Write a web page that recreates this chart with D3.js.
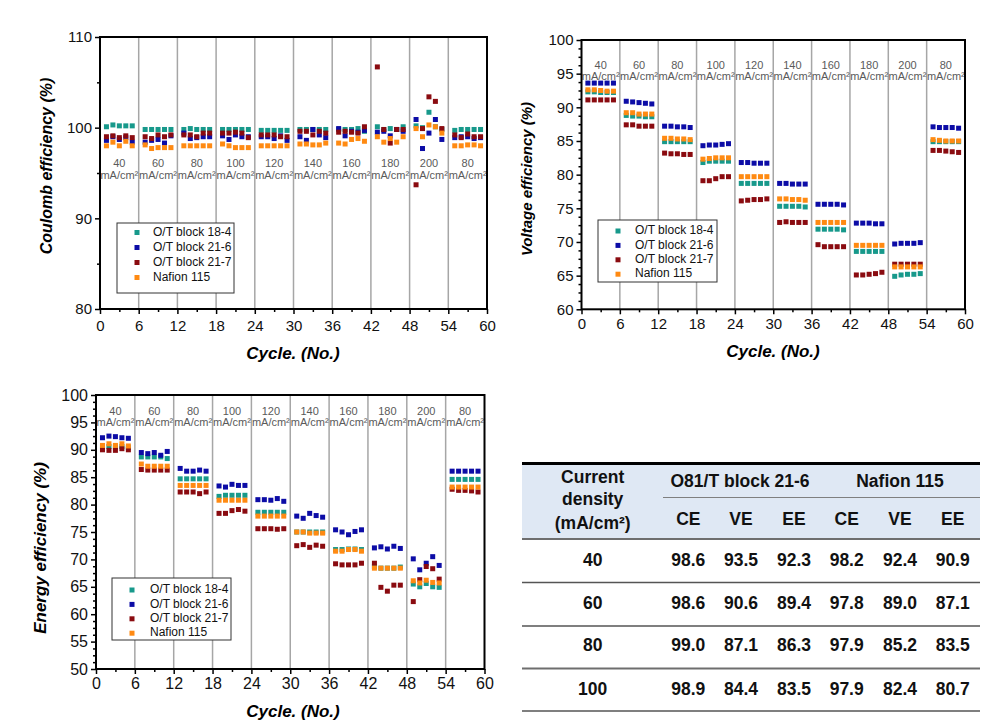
<!DOCTYPE html>
<html><head><meta charset="utf-8">
<script src="https://cdn.jsdelivr.net/npm/d3@7/dist/d3.min.js"></script>
<style>
html,body{margin:0;padding:0;background:#fff;}
svg{display:block;font-family:"Liberation Sans",Arial,Helvetica,sans-serif;}
</style></head>
<body><svg id="c" width="998" height="728"></svg>
<script>
// ---------------- DATA ----------------
const cycles = [1,2,3,4,5, 7,8,9,10,11, 13,14,15,16,17, 19,20,21,22,23, 25,26,27,28,29,
                31,32,33,34,35, 37,38,39,40,41, 43,44,45,46,47, 49,50,51,52,53, 55,56,57,58,59];
const densityLabels = ["40","60","80","100","120","140","160","180","200","80"];
const seriesNames = ["O/T block 18-4","O/T block 21-6","O/T block 21-7","Nafion 115"];
const seriesColors = ["#17998b","#0c0ca6","#8a0b10","#ff8a12"];

// Coulomb efficiency (%)
const ce_18_4 = [100.1,100.3,100.2,100.2,100.2, 99.8,99.8,99.8,99.8,99.8, 99.8,99.9,99.8,99.8,99.8, 99.8,99.8,99.8,99.8,99.8, 99.7,99.7,99.7,99.7,99.7,
                 99.8,99.8,99.8,99.8,99.8, 99.8,99.8,99.8,99.9,99.6, 100.1,99.8,99.9,99.8,100.1, 100.2,100.0,101.7,100.1,99.8, 99.7,99.8,99.8,99.8,99.8];
const ce_21_6 = [98.6,99.0,98.7,98.9,98.4, 98.4,98.6,98.7,98.3,99.1, 99.4,98.8,98.9,99.0,99.0, 99.1,98.7,99.2,99.0,99.0, 99.0,99.0,98.8,99.1,98.6,
                 99.0,98.6,99.8,99.2,98.9, 99.9,99.1,99.6,99.5,99.7, 99.5,99.6,99.1,99.8,99.6, 100.9,97.7,99.4,100.9,98.7, 98.9,99.0,99.0,98.8,98.9];
const ce_21_7 = [99.0,99.1,98.9,99.1,98.9, 99.0,98.8,99.2,99.0,99.2, 99.2,99.2,99.0,99.4,99.4, 99.4,99.4,99.5,99.4,98.9, 99.2,99.2,99.2,99.0,99.0,
                 99.6,99.6,99.2,99.6,99.4, 99.5,99.6,99.5,99.4,100.1, 106.7,99.8,98.3,99.8,99.8, 93.7,99.9,103.4,102.9,99.9, 99.2,98.9,99.3,99.0,99.0];
const ce_nafion = [98.0,98.4,98.0,98.5,98.0, 98.1,97.7,97.8,97.8,97.8, 98.0,98.0,98.0,98.0,98.0, 98.2,98.0,97.8,97.8,97.8, 98.0,98.0,98.0,98.0,98.0,
                   98.2,98.2,98.1,98.1,98.3, 98.3,98.2,98.7,98.8,98.5, 99.0,98.4,98.8,98.4,99.0, 99.9,99.0,100.3,100.1,99.4, 98.0,98.0,98.1,98.1,98.0];

// Voltage efficiency (%)
const ve_18_4 = [92.3,92.3,92.2,92.2,92.2, 88.8,88.7,88.7,88.6,88.6, 84.9,84.9,84.9,84.9,84.9, 81.8,82.0,82.0,82.0,82.0, 78.7,78.7,78.7,78.7,78.7,
                 75.3,75.3,75.3,75.3,75.2, 71.9,71.9,71.9,71.9,71.8, 68.6,68.6,68.6,68.6,68.6, 64.9,65.1,65.2,65.2,65.3, 84.9,84.9,84.9,84.9,84.9];
const ve_21_6 = [93.6,93.6,93.6,93.6,93.6, 90.9,90.8,90.7,90.6,90.5, 87.2,87.2,87.1,87.1,87.0, 84.3,84.4,84.4,84.5,84.6, 81.8,81.8,81.7,81.7,81.7,
                 78.7,78.7,78.6,78.6,78.6, 75.6,75.6,75.6,75.6,75.5, 72.8,72.8,72.8,72.7,72.7, 69.7,69.8,69.8,69.8,69.9, 87.1,87.0,87.0,87.0,86.9];
const ve_21_7 = [91.1,91.1,91.1,91.1,91.1, 87.4,87.4,87.2,87.2,87.2, 83.2,83.1,83.1,83.0,83.0, 79.1,79.1,79.4,79.7,79.7, 76.1,76.2,76.3,76.3,76.4,
                 72.9,73.0,72.9,72.9,72.9, 69.6,69.3,69.3,69.3,69.3, 65.1,65.1,65.2,65.3,65.5, 66.7,66.7,66.7,66.7,66.7, 83.6,83.6,83.5,83.4,83.3];
const ve_nafion = [92.6,92.6,92.5,92.4,92.4, 89.2,89.2,89.0,89.0,89.0, 85.4,85.4,85.3,85.3,85.2, 82.3,82.4,82.5,82.5,82.5, 79.7,79.7,79.7,79.7,79.7,
                   76.4,76.4,76.3,76.3,76.2, 72.9,72.9,72.9,72.9,72.9, 69.5,69.5,69.5,69.5,69.5, 66.3,66.3,66.3,66.3,66.3, 85.2,85.1,85.0,85.0,85.0];

// Energy efficiency (%)
const ee_18_4 = [90.5,90.6,90.5,90.6,90.4, 88.7,88.7,88.7,88.7,88.4, 84.7,84.7,84.7,84.7,84.7, 81.5,81.7,81.7,81.7,81.7, 78.6,78.6,78.6,78.6,78.6,
                 75.0,75.0,75.0,75.0,75.0, 71.8,71.8,71.9,71.9,71.8, 68.7,68.4,68.4,68.4,68.6, 65.5,65.0,65.6,65.0,64.9, 84.6,84.6,84.6,84.6,84.6];
const ee_21_6 = [92.2,92.5,92.4,92.2,92.1, 89.5,89.3,89.5,89.0,89.7, 86.6,86.1,86.1,86.3,86.1, 83.4,83.2,83.7,83.5,83.5, 80.9,80.9,80.8,81.1,80.6,
                 77.9,77.5,78.4,78.0,77.7, 75.4,75.0,74.5,75.1,75.4, 72.1,72.3,71.9,72.4,72.0, 70.1,68.1,69.3,70.5,68.9, 86.1,86.1,86.1,86.1,86.1];
const ee_21_7 = [90.0,89.9,89.9,90.2,90.0, 86.4,86.3,86.3,86.3,86.3, 82.3,82.3,82.3,82.0,82.3, 78.4,78.4,78.9,79.1,78.8, 75.6,75.6,75.6,75.5,75.6,
                 72.5,72.7,72.2,72.6,72.4, 69.2,69.0,69.0,69.0,69.3, 69.3,64.9,64.2,65.3,65.3, 62.3,66.3,68.7,68.3,66.4, 82.8,82.6,82.6,82.5,82.3];
const ee_nafion = [90.8,91.1,90.8,91.1,90.7, 87.4,87.0,87.0,87.0,87.0, 83.5,83.5,83.5,83.5,83.5, 80.8,80.8,80.8,80.8,80.8, 77.9,77.9,77.9,77.9,77.9,
                   75.0,75.0,74.8,74.8,74.8, 71.5,71.5,71.8,71.8,71.5, 68.4,68.4,68.4,68.4,68.4, 66.1,65.7,66.2,65.8,65.7, 83.2,83.2,83.2,83.2,83.2];

// Table
const tableGroups = ["O81/T block 21-6","Nafion  115"];
const tableSubHeads = ["CE","VE","EE","CE","VE","EE"];
const tableDensity = ["40","60","80","100"];
const tableRows = [
  ["98.6","93.5","92.3","98.2","92.4","90.9"],
  ["98.6","90.6","89.4","97.8","89.0","87.1"],
  ["99.0","87.1","86.3","97.9","85.2","83.5"],
  ["98.9","84.4","83.5","97.9","82.4","80.7"]
];

// ---------------- DRAW ----------------
const svg = d3.select("#c");

function drawChart(cfg){
  const g = svg.append("g");
  const x = d3.scaleLinear().domain([0,60]).range([cfg.left, cfg.right]);
  const y = d3.scaleLinear().domain(cfg.domain).range([cfg.bottom, cfg.top]);

  // vertical separators
  g.selectAll("line.sep").data(d3.range(6,60,6)).join("line")
    .attr("x1", d=>x(d)).attr("x2", d=>x(d))
    .attr("y1", cfg.top).attr("y2", cfg.bottom)
    .attr("stroke","#a6a6a6").attr("stroke-width",1.5);

  // current density labels
  densityLabels.forEach((lab,i)=>{
    const cx = x(i*6+3);
    g.append("text").attr("x",cx).attr("y",cfg.labY1).attr("text-anchor","middle")
      .attr("font-size",cfg.labFont).attr("fill","#5a5a5a").attr("dominant-baseline","middle").text(lab);
    g.append("text").attr("x",cx).attr("y",cfg.labY2).attr("text-anchor","middle")
      .attr("font-size",cfg.labFont).attr("fill","#5a5a5a").attr("dominant-baseline","middle").text("mA/cm\u00B2");
  });

  // points
  const ms = 5;
  cfg.series.forEach((vals,si)=>{
    g.append("g").selectAll("rect").data(vals).join("rect")
      .attr("x",(d,i)=>x(cycles[i])-ms/2).attr("y",d=>y(d)-ms/2)
      .attr("width",ms).attr("height",ms).attr("fill",seriesColors[si]);
  });

  // axes
  const yAx = g.append("g").attr("transform",`translate(${cfg.left},0)`)
    .call(d3.axisLeft(y).tickValues(cfg.yMajor).tickSize(5).tickPadding(3).tickFormat(d3.format("d")));
  const yMinor = g.append("g").attr("transform",`translate(${cfg.left},0)`)
    .call(d3.axisLeft(y).tickValues(cfg.yMinor).tickSize(3).tickFormat(""));
  const xAx = g.append("g").attr("transform",`translate(0,${cfg.bottom})`)
    .call(d3.axisBottom(x).tickValues(d3.range(0,61,6)).tickSize(5).tickPadding(cfg.xPad).tickFormat(d3.format("d")));
  const xMinor = g.append("g").attr("transform",`translate(0,${cfg.bottom})`)
    .call(d3.axisBottom(x).tickValues(d3.range(3,60,6)).tickSize(3).tickFormat(""));
  [yAx,yMinor,xAx,xMinor].forEach(a=>{
    a.select(".domain").remove();
    a.selectAll("line").attr("stroke","#000").attr("stroke-width",1.5);
    a.selectAll("text").attr("font-size",cfg.tickFont).attr("fill","#111")
      .attr("font-family","'Liberation Sans',Arial,sans-serif");
  });

  // frame
  g.append("rect").attr("x",cfg.left).attr("y",cfg.top)
    .attr("width",cfg.right-cfg.left).attr("height",cfg.bottom-cfg.top)
    .attr("fill","none").attr("stroke","#000").attr("stroke-width",2);

  // titles
  g.append("text").attr("transform",`translate(${cfg.yTitleX},${cfg.yTitleY}) rotate(-90)`)
    .attr("text-anchor","middle").attr("dominant-baseline","middle")
    .attr("font-size",cfg.yTitleFont).attr("font-weight","bold").attr("font-style","italic").text(cfg.yTitle);
  g.append("text").attr("x",cfg.xTitleX).attr("y",cfg.xTitleY)
    .attr("text-anchor","middle").attr("dominant-baseline","middle")
    .attr("font-size",17).attr("font-weight","bold").attr("font-style","italic").text("Cycle. (No.)");

  // legend
  const L = cfg.legend;
  g.append("rect").attr("x",L.x).attr("y",L.y).attr("width",L.w).attr("height",L.h)
    .attr("fill","#fff").attr("stroke","#333").attr("stroke-width",1);
  seriesNames.forEach((nm,i)=>{
    const yy = L.y + L.first + i*L.step;
    g.append("rect").attr("x",L.mx-2.5).attr("y",yy-2.5).attr("width",5).attr("height",5).attr("fill",seriesColors[i]);
    g.append("text").attr("x",L.tx).attr("y",yy).attr("dominant-baseline","middle")
      .attr("font-size",12).attr("fill","#111").text(nm);
  });
}

drawChart({
  left:100, right:487, top:37, bottom:309, domain:[80,110],
  yMajor:[80,90,100,110], yMinor:[85,95,105], tickFont:15, xPad:6,
  labY1:164, labY2:176, labFont:11,
  series:[ce_18_4, ce_21_6, ce_21_7, ce_nafion],
  yTitle:"Coulomb efficiency (%)", yTitleX:48, yTitleY:166, yTitleFont:16,
  xTitleX:293, xTitleY:355,
  legend:{x:117,y:223,w:117,h:70,first:9.5,step:15,mx:137,tx:153}
});
drawChart({
  left:581.5, right:965, top:40, bottom:309.3, domain:[60,100],
  yMajor:d3.range(60,101,5), yMinor:d3.range(60,100.01,1.25).filter(v=>v%5!==0), tickFont:15, xPad:4,
  labY1:66, labY2:77, labFont:11,
  series:[ve_18_4, ve_21_6, ve_21_7, ve_nafion],
  yTitle:"Voltage efficiency (%)", yTitleX:528, yTitleY:179, yTitleFont:15,
  xTitleX:773, xTitleY:353,
  legend:{x:598,y:220,w:119,h:62,first:11,step:14.4,mx:618,tx:635}
});
drawChart({
  left:96, right:484.5, top:395, bottom:669, domain:[50,100],
  yMajor:d3.range(50,101,5), yMinor:d3.range(50,100.01,1.25).filter(v=>v%5!==0), tickFont:16, xPad:4,
  labY1:412, labY2:423, labFont:11,
  series:[ee_18_4, ee_21_6, ee_21_7, ee_nafion],
  yTitle:"Energy efficiency (%)", yTitleX:42, yTitleY:548, yTitleFont:17,
  xTitleX:293, xTitleY:713,
  legend:{x:112,y:578,w:119,h:62,first:12,step:14.4,mx:132,tx:150}
});

// ---------------- TABLE ----------------
(function(){
  const t = svg.append("g").attr("font-weight","bold").attr("fill","#111");
  const L = 522, R = 980;
  const colX = [592.7, 688.3, 741, 794, 846.7, 900, 952.7];
  t.append("rect").attr("x",L).attr("y",463).attr("width",R-L).attr("height",76).attr("fill","#dfe8f4");
  t.append("line").attr("x1",L).attr("x2",R).attr("y1",463.5).attr("y2",463.5).attr("stroke","#000").attr("stroke-width",3);
  t.append("line").attr("x1",663).attr("x2",R).attr("y1",497.5).attr("y2",497.5).attr("stroke","#7f7f7f").attr("stroke-width",1.2);
  t.append("line").attr("x1",L).attr("x2",R).attr("y1",539).attr("y2",539).attr("stroke","#6e6e6e").attr("stroke-width",2);
  [582.5, 626, 668.5, 711].forEach((yy,i)=>{
    t.append("line").attr("x1",L).attr("x2",R).attr("y1",yy).attr("y2",yy)
      .attr("stroke", i===2 ? "#6e6e6e" : "#555").attr("stroke-width", i===2 ? 2.2 : 1.6);
  });
  const txt = (x,y,s)=>t.append("text").attr("x",x).attr("y",y).attr("text-anchor","middle")
      .attr("dominant-baseline","middle").attr("font-size",17.5).text(s);
  txt(colX[0],478,"Current");
  txt(colX[0],500,"density");
  txt(colX[0],524,"(mA/cm\u00B2)");
  txt(740,482,tableGroups[0]);
  txt(900,482,tableGroups[1]);
  tableSubHeads.forEach((h,i)=>txt(colX[i+1],520,h));
  const rowY = [561.5, 604.3, 646.8, 690];
  tableDensity.forEach((d,r)=>{
    txt(colX[0],rowY[r],d);
    tableRows[r].forEach((v,c)=>txt(colX[c+1],rowY[r],v));
  });
})();
</script></body></html>
